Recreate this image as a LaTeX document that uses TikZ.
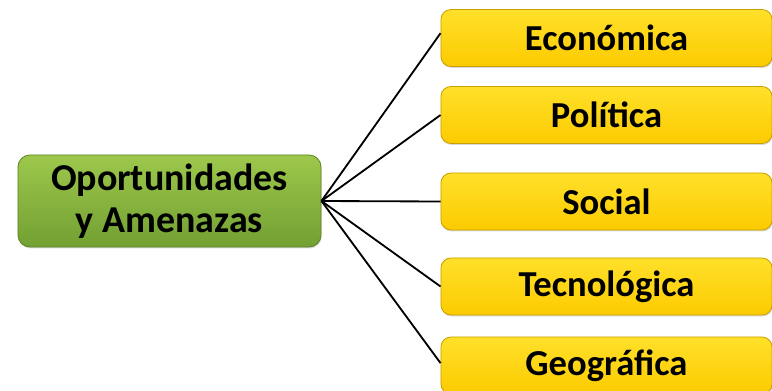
\documentclass[tikz,border=0pt]{standalone}
\usepackage{fontspec}
\setmainfont{Carlito}
\usepackage{tikz}
\usetikzlibrary{positioning, shadows}

\definecolor{hubtop}{HTML}{9DC84C}
\definecolor{hubbot}{HTML}{72A032}
\definecolor{hubline}{HTML}{5E8426}
\definecolor{factop}{HTML}{FFE02A}
\definecolor{facbot}{HTML}{FCCB00}
\definecolor{facline}{HTML}{C9A000}

\begin{document}
\begin{tikzpicture}[x=0.025cm, y=-0.025cm,
    hub/.style={draw=hubline, line width=0.6pt, rounded corners=0.3cm,
        top color=hubtop, bottom color=hubbot, align=center,
        minimum width=7.575cm, minimum height=2.3cm,
        font=\fontsize{27}{30}\selectfont\bfseries,
        drop shadow={opacity=0.3, shadow xshift=0.5pt, shadow yshift=-1pt}},
    factor/.style={draw=facline, line width=0.6pt, rounded corners=0.25cm,
        top color=factop, bottom color=facbot,
        minimum width=8.275cm, minimum height=1.425cm,
        font=\fontsize{26}{30}\selectfont\bfseries,
        drop shadow={opacity=0.3, shadow xshift=0.5pt, shadow yshift=-1pt}},
    link/.style={draw=black, line width=1.3pt}]
    \useasboundingbox (0,0) rectangle (772,390);

    % Hub
    \node[hub] (amenazas) at (169.5,201) {Oportunidades\\y Amenazas};

    % Factors
    \node[factor] (economica) at (606.5,38) {Económica};
    \node[factor] (politica) at (606.5,115) {Política};
    \node[factor] (social) at (606.5,201.5) {Social};
    \node[factor] (tecnologica) at (606.5,286.5) {Tecnológica};
    \node[factor] (geografica) at (606.5,365.5) {Geográfica};

    % Relationships
    \draw[link] (amenazas.east) -- ([yshift=0.12cm]economica.west);
    \draw[link] (amenazas.east) -- (politica.west);
    \draw[link] (amenazas.east) -- (social.west);
    \draw[link] (amenazas.east) -- (tecnologica.west);
    \draw[link] (amenazas.east) -- ([yshift=0.06cm]geografica.west);
\end{tikzpicture}
\end{document}
